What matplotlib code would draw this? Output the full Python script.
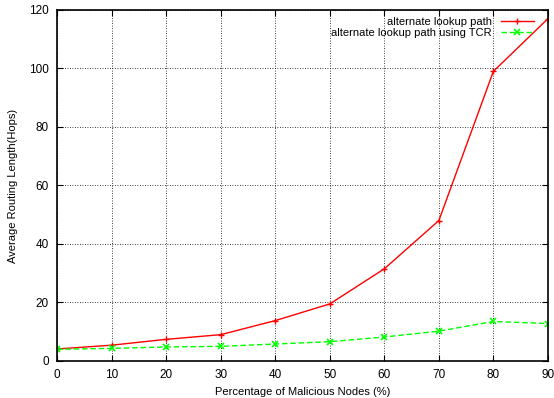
import matplotlib
matplotlib.use("Agg")
import matplotlib.pyplot as plt

plt.rcParams['font.family'] = ['Liberation Sans', 'DejaVu Sans']

malicious = [0, 10, 20, 30, 40, 50, 60, 70, 80, 90]
alt_path = [4.1, 5.4, 7.4, 9.0, 13.8, 19.5, 31.5, 48.0, 99.0, 117.0]
alt_path_tcr = [4.0, 4.3, 4.8, 5.0, 5.8, 6.6, 8.2, 10.2, 13.5, 12.8]

fig = plt.figure(figsize=(5.54, 3.98), dpi=100)
ax = fig.add_axes([0.103, 0.093, 0.886, 0.882])

ax.plot(malicious, alt_path, color='#ff0000', lw=1, marker='+', ms=5,
        label='alternate lookup path')
ax.plot(malicious, alt_path_tcr, color='#00ff00', lw=1, ls=(0, (4, 2)), marker='x', ms=4,
        mew=1.2, label='alternate lookup path using TCR')

ax.set_xlim(0, 90)
ax.set_ylim(0, 120)
ax.set_xticks(range(0, 91, 10))
ax.set_yticks(range(0, 121, 20))
ax.tick_params(direction='in', top=True, right=True, labelsize=8.5, length=4, pad=6)
ax.grid(True, color='black', ls=(0, (1, 2)), lw=0.6)
for s in ax.spines.values():
    s.set_linewidth(1.2)

ax.set_xlabel('Percentage of Malicious Nodes (%)', fontsize=8)
ax.set_ylabel('Average Routing Length(Hops)', fontsize=8, labelpad=8)

leg = ax.legend(loc='upper right', markerfirst=False, frameon=False, fontsize=8,
                handlelength=3, borderaxespad=0.2, labelspacing=0.1,
                bbox_to_anchor=(0.985, 1.0))
for t in leg.get_texts():
    t.set_ha('right')

fig.savefig('out.png', dpi=100)
